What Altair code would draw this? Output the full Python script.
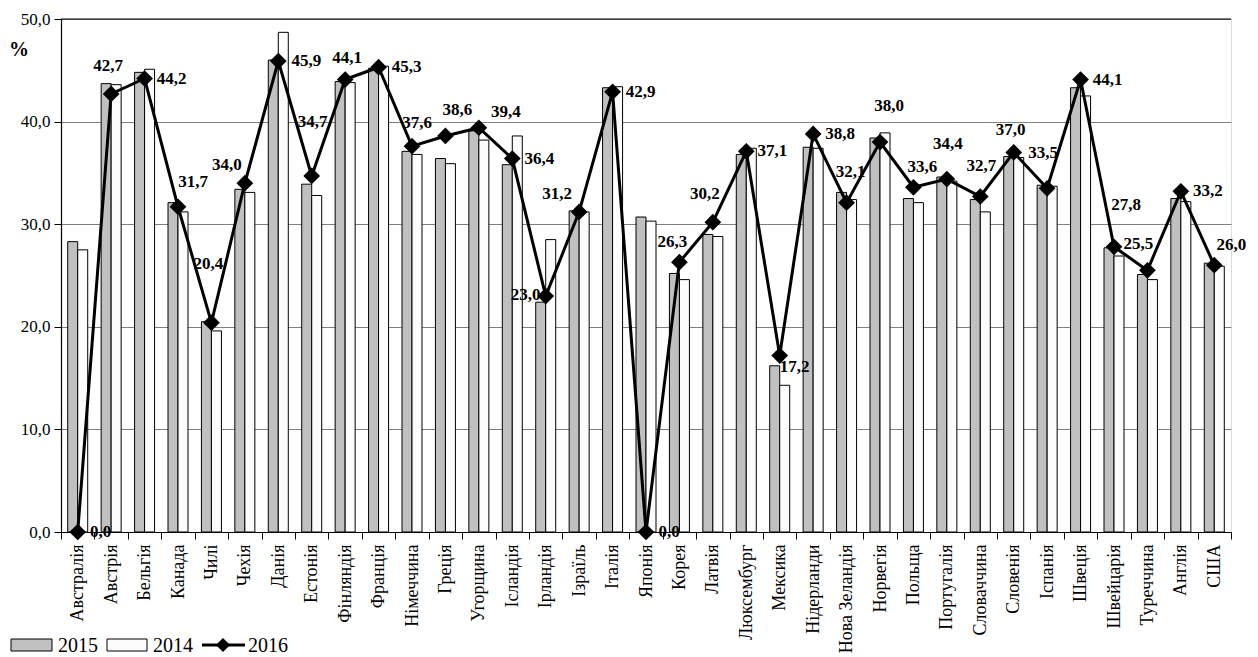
import altair as alt
import pandas as pd

countries = ["Австралія", "Австрія", "Бельгія", "Канада", "Чилі", "Чехія", "Данія",
             "Естонія", "Фінляндія", "Франція", "Німеччина", "Греція", "Угорщина",
             "Ісландія", "Ірландія", "Ізраїль", "Італія", "Японія", "Корея", "Латвія",
             "Люксембург", "Мексика", "Нідерланди", "Нова Зеландія", "Норвегія",
             "Польща", "Португалія", "Словаччина", "Словенія", "Іспанія", "Швеція",
             "Швейцарія", "Туреччина", "Англія", "США"]

v2015 = [28.3, 43.7, 44.8, 32.1, 20.5, 33.4, 46.0, 33.9, 43.9, 45.2, 37.1, 36.4, 39.1,
         35.8, 22.4, 31.3, 43.3, 30.7, 25.2, 29.0, 36.8, 16.2, 37.5, 33.1, 38.4,
         32.5, 34.6, 32.4, 36.6, 33.8, 43.3, 27.7, 25.1, 32.5, 26.2]

v2014 = [27.5, 43.6, 45.1, 31.2, 19.6, 33.1, 48.7, 32.8, 43.8, 45.4, 36.8, 35.9, 38.2,
         38.6, 28.5, 31.2, 43.4, 30.3, 24.6, 28.8, 37.4, 14.3, 37.4, 32.4, 38.9,
         32.1, 34.2, 31.2, 36.5, 33.7, 42.5, 26.9, 24.6, 32.2, 25.9]

v2016 = [0.0, 42.7, 44.2, 31.7, 20.4, 34.0, 45.9, 34.7, 44.1, 45.3, 37.6, 38.6, 39.4,
         36.4, 23.0, 31.2, 42.9, 0.0, 26.3, 30.2, 37.1, 17.2, 38.8, 32.1, 38.0,
         33.6, 34.4, 32.7, 37.0, 33.5, 44.1, 27.8, 25.5, 33.2, 26.0]

# label placement offsets (pixels) for the 2016 value labels
label_dx = [23, -3, 27, 15, -3, -18, 28, 1, 2, 28, 5, 12, 27, 27, -20, -22, 28, 23, -7, -8,
            26, 15, 27, 4, 9, 9, 1, 1, -3, -4, 27, 12, -9, 27, 17]
label_dy = [0, -28, 0, -25, -59, -18, 0, -54, -22, 0, -23, -26, -16, 0, -1, -18, 0, 0, -20, -28,
            0, 11, 0, -31, -36, -20, -35, -30, -22, -35, 0, -42, -26, 0, -20]

FONT = "Times New Roman, Liberation Serif, serif"
W, H = 1170, 513

df15 = pd.DataFrame({"country": countries, "value": v2015})
df14 = pd.DataFrame({"country": countries, "value": v2014})
df16 = pd.DataFrame({
    "country": countries,
    "value": v2016,
    "label": [f"{v:.1f}".replace(".", ",") for v in v2016],
})

x_enc = alt.X(
    "country:N", sort=countries,
    scale=alt.Scale(paddingInner=0, paddingOuter=0),
    axis=alt.Axis(
        title=None, labelAngle=-90, labelFont=FONT, labelFontSize=18,
        labelColor="black", tickBand="extent", tickSize=7, tickColor="black",
        domainColor="black", domainWidth=1.2, labelPadding=5, labelLimit=300,
    ),
)
y_enc = alt.Y(
    "value:Q",
    scale=alt.Scale(domain=[0, 50], nice=False),
    axis=alt.Axis(
        title=None, values=[0, 10, 20, 30, 40, 50],
        labelExpr="replace(format(datum.value, '.1f'), '.', ',')",
        labelFont=FONT, labelFontSize=17, labelColor="black",
        gridColor="#808080", gridWidth=1, tickSize=7, tickColor="black",
        domainColor="black", domainWidth=1.2, labelPadding=4,
    ),
)

bars15 = alt.Chart(df15).mark_bar(
    width=10, xOffset=-5, fill="#c0c0c0", stroke="black", strokeWidth=1
).encode(x=x_enc, y=y_enc)

bars14 = alt.Chart(df14).mark_bar(
    width=10, xOffset=5, fill="#fcfcfc", stroke="black", strokeWidth=1
).encode(x=x_enc, y=y_enc)

line16 = alt.Chart(df16).mark_line(color="black", strokeWidth=3).encode(x=x_enc, y=y_enc)
pts16 = alt.Chart(df16).mark_point(
    shape="diamond", filled=True, size=280, color="black", opacity=1
).encode(x=x_enc, y=y_enc)

label_layers = []
for c, dx, dy in zip(countries, label_dx, label_dy):
    label_layers.append(
        alt.Chart(df16).transform_filter(alt.datum.country == c).mark_text(
            font=FONT, fontWeight="bold", fontSize=17, color="black",
            align="center", baseline="middle", dx=dx, dy=dy,
        ).encode(x=x_enc, y=y_enc, text="label:N")
    )

one = pd.DataFrame({"a": [0]})
top_rule = alt.Chart(one).mark_rule(color="black", strokeWidth=1.2).encode(
    x=alt.value(0), x2=alt.value(W), y=alt.value(0)
)
pct = alt.Chart(one).mark_text(
    text="%", font=FONT, fontWeight="bold", fontSize=20, color="black"
).encode(x=alt.value(-42), y=alt.value(31))

# legend
LY = 626
leg_box15 = alt.Chart(one).mark_rect(fill="#c0c0c0", stroke="black", strokeWidth=1).encode(
    x=alt.value(-50), x2=alt.value(-9), y=alt.value(LY - 6), y2=alt.value(LY + 6)
)
leg_box14 = alt.Chart(one).mark_rect(fill="#fcfcfc", stroke="black", strokeWidth=1).encode(
    x=alt.value(46), x2=alt.value(86), y=alt.value(LY - 6), y2=alt.value(LY + 6)
)
leg_line = alt.Chart(one).mark_rule(color="black", strokeWidth=3).encode(
    x=alt.value(141), x2=alt.value(184), y=alt.value(LY)
)
leg_pt = alt.Chart(one).mark_point(
    shape="diamond", filled=True, size=200, color="black", opacity=1
).encode(x=alt.value(162), y=alt.value(LY))
leg_txt = []
for xx, t in [(-3, "2015"), (92, "2014"), (187, "2016")]:
    leg_txt.append(
        alt.Chart(one).mark_text(
            text=t, font=FONT, fontSize=20, color="black", align="left", baseline="middle"
        ).encode(x=alt.value(xx), y=alt.value(LY + 1))
    )

chart = alt.layer(
    bars15, bars14, top_rule, line16, pts16, *label_layers, pct,
    leg_box15, leg_box14, leg_line, leg_pt, *leg_txt,
).properties(
    width=W, height=H,
    autosize=alt.AutoSizeParams(type="none"),
    padding={"left": 53, "top": 11, "right": 19, "bottom": 125},
).configure_view(stroke=None).configure(background="white")

chart.save("out.html", embed_options={"renderer": "svg", "actions": False})
